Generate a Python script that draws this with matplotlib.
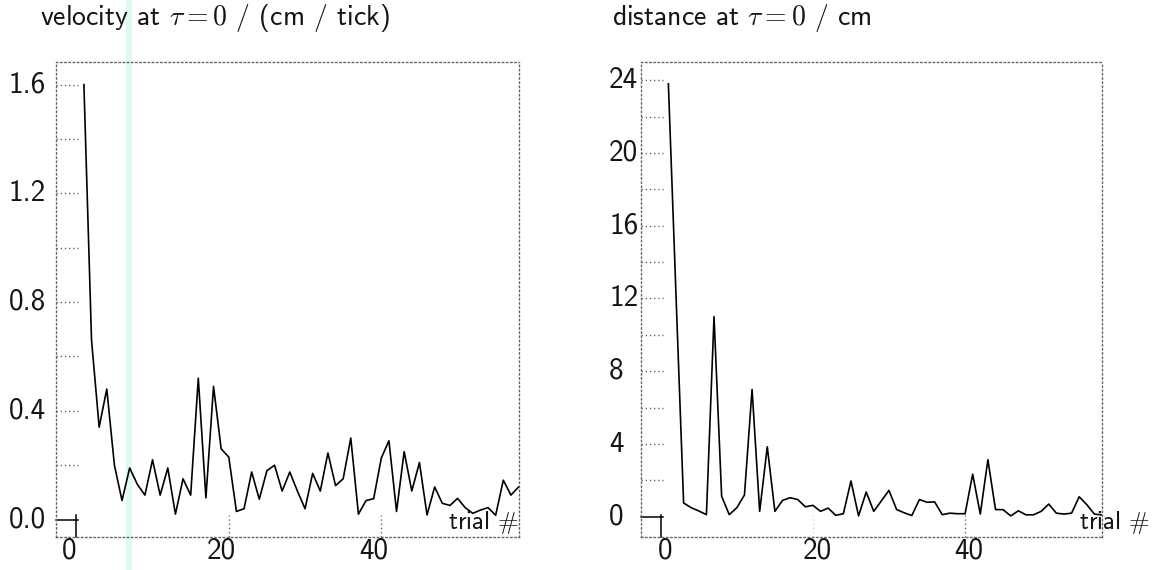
import matplotlib
matplotlib.use("Agg")
import matplotlib.pyplot as plt
import matplotlib.transforms as mtransforms
from matplotlib.patches import Rectangle

plt.rcParams["mathtext.fontset"] = "cm"
plt.rcParams["font.family"] = ["cmss10", "DejaVu Sans"]

# values
trials = list(range(1, 59))
velocity = [1.60, 0.66, 0.34, 0.48, 0.20, 0.07, 0.19, 0.13, 0.09, 0.22,
            0.09, 0.19, 0.02, 0.15, 0.09, 0.52, 0.08, 0.49, 0.26, 0.23,
            0.03, 0.04, 0.175, 0.075, 0.18, 0.20, 0.105, 0.175, 0.105, 0.04,
            0.17, 0.105, 0.245, 0.125, 0.15, 0.30, 0.02, 0.07, 0.077, 0.226,
            0.29, 0.03, 0.25, 0.105, 0.21, 0.017, 0.12, 0.06, 0.052, 0.078,
            0.044, 0.023, 0.035, 0.044, 0.016, 0.145, 0.09, 0.12]
distance = [23.8, 12.2, 0.76, 0.5, 0.32, 0.12, 11.0, 1.13, 0.12, 0.5,
            1.2, 7.0, 0.3, 3.85, 0.3, 0.9, 1.05, 0.95, 0.55, 0.63,
            0.3, 0.48, 0.08, 0.17, 1.97, 0.05, 1.36, 0.3, 0.88, 1.45,
            0.4, 0.22, 0.07, 0.95, 0.8, 0.82, 0.12, 0.2, 0.17, 0.17,
            2.34, 0.15, 3.14, 0.4, 0.39, 0.05, 0.33, 0.11, 0.11, 0.3,
            0.7, 0.2, 0.15, 0.2, 1.1, 0.67, 0.15, 0.1]

vel_ticks = [0.0, 0.2, 0.4, 0.6, 0.8, 1.0, 1.2, 1.4, 1.6]
vel_labels = {0.0: "0.0", 0.4: "0.4", 0.8: "0.8", 1.2: "1.2", 1.6: "1.6"}
dist_ticks = [0, 2, 4, 6, 8, 10, 12, 14, 16, 18, 20, 22, 24]
dist_labels = {0: "0", 4: "4", 8: "8", 12: "12", 16: "16", 20: "20", 24: "24"}
x_labels = [0, 20, 40]

W, H = 1162, 570
fig = plt.figure(figsize=(W / 100, H / 100), dpi=100)

# light cyan scanner streak
fig.patches.append(Rectangle((126 / W, 0), 5 / W, 1, transform=fig.transFigure,
                             color="#e0f7f6", zorder=-5))

dots = (0, (1, 2))
frame_col = "#666666"
txt = "#151515"


def panel(l, t, r, b, y, ylim, xlim, yticks, ylabels, lab_x, lab_ha,
          xmarks, faint, xshift, title, title_x, trial_x):
    ax = fig.add_axes([l / W, 1 - b / H, (r - l) / W, (b - t) / H])
    ax.set_facecolor("none")
    ax.plot(trials, y, color="black", lw=1.2)
    ax.set_xlim(*xlim)
    ax.set_ylim(*ylim)
    ax.set_xticks([])
    ax.set_yticks([])
    for s in ax.spines.values():
        s.set_linestyle(dots)
        s.set_color(frame_col)
        s.set_linewidth(1.0)

    ty = mtransforms.blended_transform_factory(ax.transAxes, ax.transData)
    tx = mtransforms.blended_transform_factory(ax.transData, ax.transAxes)
    tlx = 22 / (r - l)
    tly = 22 / (b - t)
    for v in yticks:
        if v == 0:
            ax.plot([0, tlx], [v, v], transform=ty, color="black", lw=1.1, clip_on=False)
        else:
            ax.plot([0, tlx], [v, v], transform=ty, color=frame_col, lw=1.0,
                    ls=dots, clip_on=False)
    ax.plot([0, 0], [0, tly], transform=tx, color="black", lw=1.1, clip_on=False)
    for m in xmarks:
        a = 0.3 if m in faint else 1.0
        ax.plot([m, m], [0, tly], transform=tx, color=frame_col, lw=1.0,
                ls=dots, alpha=a, clip_on=False)

    fy = mtransforms.blended_transform_factory(fig.transFigure, ax.transData)
    for v, s in ylabels.items():
        ax.text(lab_x / W, v, s, transform=fy, ha=lab_ha, va="center",
                fontsize=21, color=txt)
    off = mtransforms.offset_copy(ax.transData, fig=fig, x=xshift, y=0, units="dots")
    fx = mtransforms.blended_transform_factory(off, fig.transFigure)
    for v in x_labels:
        ax.text(v, 1 - 551 / H, str(v), transform=fx, ha="center", va="center",
                fontsize=21, color=txt)
    fig.text(trial_x / W, 1 - 523 / H, r"trial $\#$", ha="right", va="center",
             fontsize=18, color=txt)
    fig.text(title_x / W, 1 - 18 / H, title, ha="left", va="center",
             fontsize=20, color=txt)
    return ax


panel(56, 62, 519, 537, velocity, (-0.064, 1.683), (-2.66, 58.06),
      vel_ticks, vel_labels, 46, "right", [20, 40], [], -7,
      r"velocity at $\tau = 0$ / (cm / tick)", 40, 519)
panel(641, 62, 1102, 537, distance, (-1.11, 25.0), (-2.6, 58.0),
      dist_ticks, dist_labels, 609, "left", [20, 40], [20], 4,
      r"distance at $\tau = 0$ / cm", 612, 1150)

fig.savefig("out.png", dpi=100)
